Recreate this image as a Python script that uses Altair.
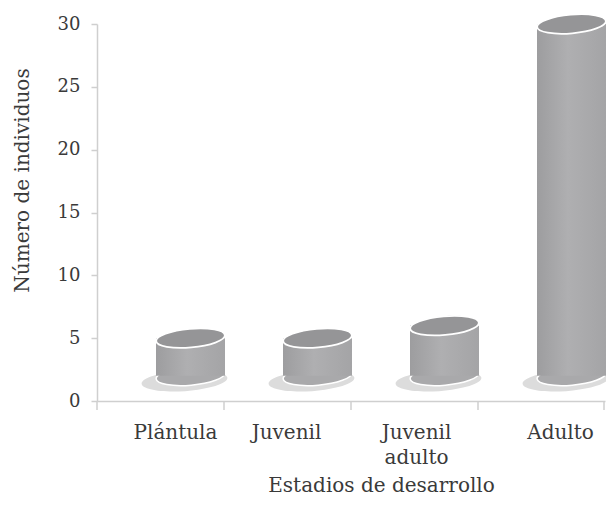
import altair as alt
import pandas as pd

stages = ["Plántula", "Juvenil", "Juvenil adulto", "Adulto"]
counts = [3, 3, 4, 28]
y_ticks = [0, 5, 10, 15, 20, 25, 30]

FLOOR = 2.0  # elevation of the 3D floor, in axis units
df = pd.DataFrame({"stage": stages, "n": counts})

W, H = 508, 377
FONT = "DejaVu Serif"
TXT = "#3a3a3a"
AX = "#cfcfcf"
ELL = "M -1 0 A 1 0.27 0 1 1 1 0 A 1 0.27 0 1 1 -1 0 Z"
SHD = "M -1 0 A 1 0.24 0 1 1 1 0 A 1 0.24 0 1 1 -1 0 Z"
CW = 69
DX = 30

x_scale = alt.Scale(paddingInner=0, paddingOuter=0, domain=stages)
y_scale = alt.Scale(domain=[0, 30], nice=False)

base = alt.Chart(df).transform_calculate(
    floor=f"{FLOOR}", top=f"datum.n + {FLOOR}"
)

label_offset = {
    "condition": [
        {"test": "datum.value === 'Plántula'", "value": 15},
        {"test": "datum.value === 'Juvenil'", "value": -1},
        {"test": "datum.value === 'Juvenil adulto'", "value": 2},
    ],
    "value": 19,
}

x_enc = alt.X(
    "stage:N", scale=x_scale, sort=stages, title="Estadios de desarrollo",
    axis=alt.Axis(
        ticks=False, domainColor=AX, domainWidth=1.5, labelAngle=0,
        labelFont=FONT, labelFontSize=20, labelColor=TXT, labelPadding=21,
        labelOffset=label_offset, labelLineHeight=25, labelBaseline="top",
        labelExpr="datum.value == 'Juvenil adulto' ? ['Juvenil', 'adulto'] : datum.label",
        titleFont=FONT, titleFontSize=20, titleFontWeight="normal", titleColor=TXT,
        titleX=284, titleY=84, titleBaseline="middle", titleAlign="center",
    ),
)
y_enc = alt.Y(
    "floor:Q", scale=y_scale, title="Número de individuos",
    axis=alt.Axis(
        values=y_ticks, grid=False, domainColor=AX, domainWidth=1.5,
        tickColor=AX, tickWidth=1.5, tickSize=6, labelFont=FONT,
        labelFontSize=18, labelColor=TXT, labelPadding=11,
        titleFont=FONT, titleFontSize=20, titleFontWeight="normal",
        titleColor=TXT, titleX=-75, titleY=156, titleAlign="center",
        titleBaseline="middle", titleAngle=270,
    ),
)

shadow = base.mark_point(
    shape=SHD, filled=True, color="#dcdcdc", opacity=1, size=86 ** 2,
    xOffset=DX - 6, yOffset=5, angle=356,
).encode(x=x_enc, y=y_enc)

bottom = base.mark_point(
    shape=ELL, filled=True, color="#a9a9ab", opacity=1, size=CW ** 2,
    xOffset=DX, angle=355, stroke="white", strokeWidth=1.5,
).encode(x=alt.X("stage:N", sort=stages), y=alt.Y("floor:Q"))

body = base.mark_bar(
    size=CW, xOffset=DX,
    color=alt.Gradient(
        gradient="linear", x1=0, x2=1, y1=0, y2=0,
        stops=[
            alt.GradientStop(color="#9d9d9f", offset=0),
            alt.GradientStop(color="#afafb1", offset=0.45),
            alt.GradientStop(color="#a4a4a6", offset=1),
        ],
    ),
).encode(x=alt.X("stage:N", sort=stages), y=alt.Y("floor:Q"), y2="top:Q")

top = base.mark_point(
    shape=ELL, filled=True, color="#959597", opacity=1, size=CW ** 2,
    xOffset=DX, angle=355, stroke="white", strokeWidth=1.8,
).encode(x=alt.X("stage:N", sort=stages), y=alt.Y("top:Q"))

ticks_df = pd.DataFrame({"stage": stages})
xticks = alt.Chart(ticks_df).mark_rule(color=AX, strokeWidth=1.5).encode(
    x=alt.X("stage:N", sort=stages, bandPosition=0),
    y=alt.value(H), y2=alt.value(H + 9),
)
last_tick = alt.Chart(ticks_df.head(1)).mark_rule(color=AX, strokeWidth=1.5).encode(
    x=alt.value(W - 1), y=alt.value(H), y2=alt.value(H + 9),
)

chart = alt.layer(shadow, bottom, body, top, xticks, last_tick).properties(
    width=W, height=H,
    autosize=alt.AutoSizeParams(type="none"),
    padding={"left": 97, "top": 24, "right": 1, "bottom": 106},
    background="white",
).configure_view(stroke=None)

chart.save("out.html", embed_options={"renderer": "svg", "actions": False})
